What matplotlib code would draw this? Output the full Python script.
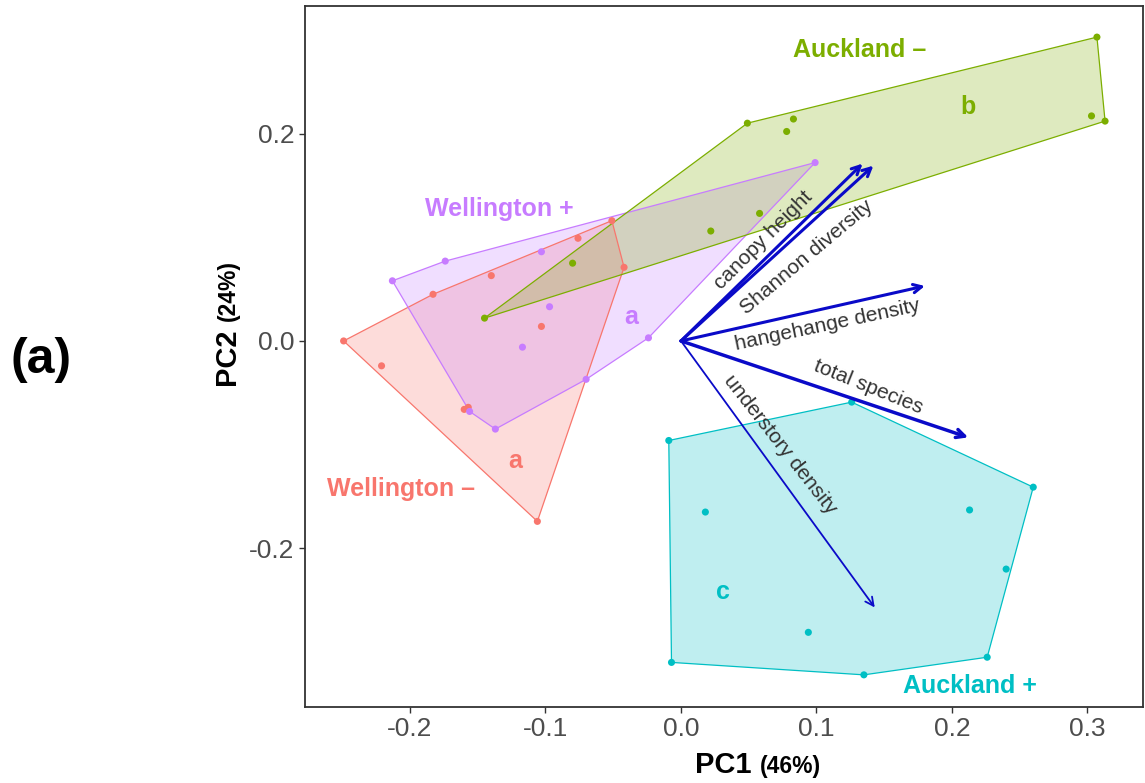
import numpy as np
import matplotlib
matplotlib.use('Agg')
import matplotlib.pyplot as plt

plt.rcParams['font.family'] = ['Liberation Sans', 'DejaVu Sans']

# PCA scores per group
wel_minus_x = [-0.249, -0.221, -0.183, -0.140, -0.076, -0.051, -0.042, -0.103, -0.157, -0.106, -0.160]
wel_minus_y = [0.000, -0.024, 0.045, 0.063, 0.099, 0.116, 0.071, 0.014, -0.064, -0.174, -0.066]
wel_plus_x = [-0.213, -0.174, -0.103, -0.097, -0.117, -0.156, -0.137, -0.070, -0.024, 0.099]
wel_plus_y = [0.058, 0.077, 0.086, 0.033, -0.006, -0.068, -0.085, -0.037, 0.003, 0.172]
auk_minus_x = [0.307, 0.049, 0.083, 0.078, 0.303, 0.313, 0.058, 0.022, -0.080, -0.145]
auk_minus_y = [0.293, 0.210, 0.214, 0.202, 0.217, 0.212, 0.123, 0.106, 0.075, 0.022]
auk_plus_x = [-0.009, 0.126, 0.260, 0.213, 0.240, 0.226, 0.135, -0.007, 0.018, 0.094]
auk_plus_y = [-0.096, -0.059, -0.141, -0.163, -0.220, -0.305, -0.322, -0.310, -0.165, -0.281]

# loading arrows
var_names = ['canopy height', 'Shannon diversity', 'hangehange density', 'total species', 'understory density']
var_x = [0.134, 0.142, 0.180, 0.212, 0.143]
var_y = [0.171, 0.169, 0.053, -0.093, -0.257]
var_lw = [2.2, 2.2, 2.2, 2.5, 1.3]
var_lab_x = [0.061, 0.093, 0.108, 0.138, 0.073]
var_lab_y = [0.097, 0.081, 0.015, -0.044, -0.100]
var_rot = [45, 40, 12, -22, -52]

groups = [
    ('Wellington \u2013', wel_minus_x, wel_minus_y, '#F8766D', (-0.207, -0.143), 'a', (-0.1225, -0.116)),
    ('Wellington +', wel_plus_x, wel_plus_y, '#C77CFF', (-0.134, 0.127), 'a', (-0.037, 0.023)),
    ('Auckland \u2013', auk_minus_x, auk_minus_y, '#7CAE00', (0.132, 0.281), 'b', (0.212, 0.226)),
    ('Auckland +', auk_plus_x, auk_plus_y, '#00BFC4', (0.213, -0.333), 'c', (0.031, -0.242)),
]


def convex_hull(xs, ys):
    pts = sorted(set(zip(xs, ys)))

    def cross(o, a, b):
        return (a[0] - o[0]) * (b[1] - o[1]) - (a[1] - o[1]) * (b[0] - o[0])

    lower = []
    for p in pts:
        while len(lower) >= 2 and cross(lower[-2], lower[-1], p) <= 0:
            lower.pop()
        lower.append(p)
    upper = []
    for p in reversed(pts):
        while len(upper) >= 2 and cross(upper[-2], upper[-1], p) <= 0:
            upper.pop()
        upper.append(p)
    return np.array(lower[:-1] + upper[:-1])


fig = plt.figure(figsize=(11.45, 7.83), dpi=100)
ax = fig.add_axes([305 / 1145, 76 / 783, 838 / 1145, 701 / 783])

for name, gx, gy, col, lab_pos, letter, let_pos in groups:
    hull = convex_hull(gx, gy)
    ax.fill(hull[:, 0], hull[:, 1], facecolor=col, alpha=0.25, edgecolor='none', zorder=1)
    ax.fill(hull[:, 0], hull[:, 1], facecolor='none', edgecolor=col, lw=0.9, zorder=2)

for name, gx, gy, col, lab_pos, letter, let_pos in groups:
    ax.scatter(gx, gy, s=26, color=col, edgecolors='none', zorder=3)
    ax.text(lab_pos[0], lab_pos[1], name, color=col, fontsize=18, fontweight='bold',
            ha='center', va='center', zorder=5)
    ax.text(let_pos[0], let_pos[1], letter, color=col, fontsize=18, fontweight='bold',
            ha='center', va='center', zorder=5)

for i in range(len(var_names)):
    ax.annotate('', xy=(var_x[i], var_y[i]), xytext=(0, 0),
                arrowprops=dict(arrowstyle='->,head_length=0.6,head_width=0.3',
                                color='#0A0AC8', lw=var_lw[i], shrinkA=0, shrinkB=0),
                zorder=4)
    ax.text(var_lab_x[i], var_lab_y[i], var_names[i], rotation=var_rot[i],
            rotation_mode='anchor', ha='center', va='center',
            fontsize=15, color='#333333', zorder=5)

ax.set_xlim(-0.2775, 0.341)
ax.set_ylim(-0.353, 0.323)
ax.set_xticks([-0.2, -0.1, 0.0, 0.1, 0.2, 0.3])
ax.set_yticks([-0.2, 0.0, 0.2])
ax.set_xticklabels(['-0.2', '-0.1', '0.0', '0.1', '0.2', '0.3'])
ax.set_yticklabels(['-0.2', '0.0', '0.2'])
ax.tick_params(labelsize=19, labelcolor='#4D4D4D', color='#333333', length=4, width=1)
for sp in ax.spines.values():
    sp.set_color('#333333')
    sp.set_linewidth(1.3)

# axis titles: bold name with smaller percentage
fig.canvas.draw()
r = fig.canvas.get_renderer()
t1 = fig.text(695 / 1145, 1 - 773 / 783, 'PC1', fontsize=21, fontweight='bold',
              ha='left', va='baseline')
bb = t1.get_window_extent(r)
fig.text((bb.x1 + 8) / 1145, 1 - 773 / 783, '(46%)', fontsize=16.5, fontweight='bold',
         ha='left', va='baseline')

t2 = fig.text(235 / 1145, 1 - 385 / 783, 'PC2', fontsize=21, fontweight='bold',
              rotation=90, rotation_mode='anchor', ha='left', va='baseline')
bb = t2.get_window_extent(r)
fig.text(235 / 1145, (bb.y1 + 8) / 783, '(24%)', fontsize=16.5, fontweight='bold',
         rotation=90, rotation_mode='anchor', ha='left', va='baseline')

fig.text(41 / 1145, 1 - 360 / 783, '(a)', fontsize=36, fontweight='bold',
         ha='center', va='center')

fig.savefig('out.png', dpi=100)
